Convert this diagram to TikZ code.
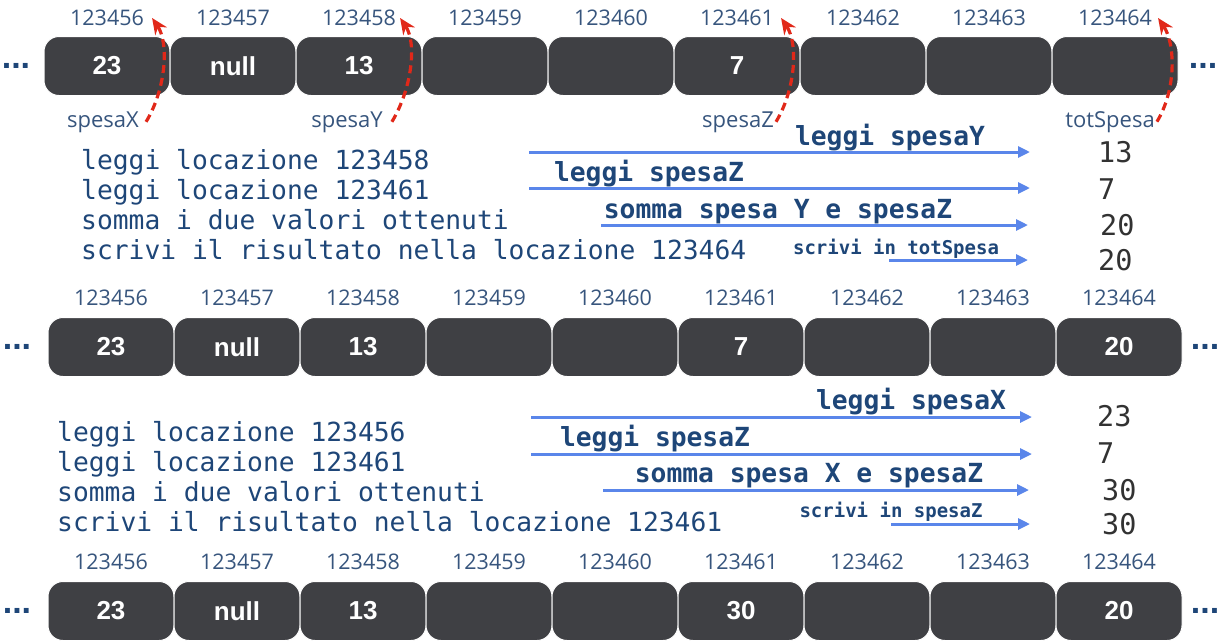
\documentclass[tikz,border=0pt]{standalone}
\usepackage{fontspec}
\setmainfont{Open Sans}
\newfontfamily\boxfont{Liberation Sans}
\newfontfamily\codefont{DejaVu Sans Mono}
\usetikzlibrary{arrows.meta}
\definecolor{grigiocella}{RGB}{63,64,68}
\definecolor{indirizzo}{RGB}{55,85,125}
\definecolor{codice}{RGB}{30,70,120}
\definecolor{freccia}{RGB}{90,134,234}
\definecolor{rosso}{RGB}{225,40,25}
\definecolor{valore}{RGB}{50,50,50}
\tikzset{
  cella/.style={rectangle, rounded corners=15pt, fill=grigiocella, draw=white, line width=1pt,
    minimum width=126pt, minimum height=59pt, inner sep=0pt, text=white,
    font=\boxfont\bfseries\fontsize{26}{26}\selectfont},
  ind/.style={inner sep=1pt, text=indirizzo, font=\fontsize{21.5}{22}\selectfont},
  var/.style={anchor=base, inner sep=1pt, text=indirizzo, font=\fontsize{22}{24}\selectfont},
  punti/.style={inner sep=0pt, text=codice, font=\boxfont\bfseries\fontsize{34}{34}\selectfont},
  istr/.style={anchor=base west, inner sep=0pt, text=codice, font=\codefont\fontsize{26.3}{30}\selectfont},
  etich/.style={anchor=base, inner sep=0pt, text=codice, font=\codefont\bfseries\fontsize{26.3}{30}\selectfont},
  etichp/.style={etich, font=\codefont\bfseries\fontsize{19}{20}\selectfont},
  val/.style={anchor=base west, inner sep=0pt, text=valore, font=\codefont\fontsize{28.5}{30}\selectfont},
  rossa/.style={draw=rosso, line width=3.2pt, dash pattern=on 8pt off 5pt, -{Stealth[length=16pt,width=14pt]}},
  blu/.style={draw=freccia, line width=3pt, -{Triangle[length=12pt,width=11pt]}}
}
\begin{document}
\begin{tikzpicture}[x=1pt, y=-1pt]
  \useasboundingbox (0,0) rectangle (1222,641);
  % memoria prima
  \foreach \v [count=\i] in {23,null,13,{},{},7,{},{},{}} {
    \node[cella] (r1c\i) at ({107+126*(\i-1)},66) {\v};
    \node[ind] (r1i\i) at ({107+126*(\i-1)},18) {\the\numexpr123455+\i\relax};
  }
  \node[punti] (r1sx) at (16,66) {...};
  \node[punti] (r1dx) at (1203,66) {...};
  \node[var] (spx) at (103,127) {spesaX};
  \node[var] (spy) at (347,127) {spesaY};
  \node[var] (spz) at (738,127) {spesaZ};
  \node[var] (tot) at (1110,127) {totSpesa};
  \draw[rossa] ([xshift=6pt]spx.east) .. controls +(20,-33) and +(17,25) .. ([xshift=7pt]r1i1.east);
  \draw[rossa] ([xshift=8pt]spy.east) .. controls +(20,-33) and +(17,25) .. ([xshift=3pt]r1i3.east);
  \draw[rossa] ([xshift=1pt]spz.east) .. controls +(20,-33) and +(17,25) .. ([xshift=6pt]r1i6.east);
  \draw[rossa] ([xshift=1pt]tot.east) .. controls +(20,-33) and +(17,25) .. ([xshift=5pt]r1i9.east);

  % primo programma
  \foreach \t [count=\i] in {leggi locazione 123458,leggi locazione 123461,somma i due valori ottenuti,scrivi il risultato nella locazione 123464}
    \node[istr] (a\i) at (81,{139+30*\i}) {\t};
  \foreach \n/\xa/\xb/\y in {1/529/1030/152,2/529/1030/188,3/601/1028/225,4/889/1028/260} {
    \coordinate (p1\n) at (\xa,\y);
    \coordinate (q1\n) at (\xb,\y);
    \draw[blu] (p1\n) -- (q1\n);
  }
  \node[etich] (e11) at (890,145) {leggi spesaY};
  \node[etich] (e12) at (649,181) {leggi spesaZ};
  \node[etich] (e13) at (778,218) {somma spesa Y e spesaZ};
  \node[etichp] (e14) at (896,254) {scrivi in totSpesa};
  \foreach \v/\xv/\y [count=\i] in {13/1098/162,7/1098/199,20/1100/235,20/1098/270}
    \node[val] (v1\i) at (\xv,\y) {\v};

  % memoria dopo il primo
  \foreach \v [count=\i] in {23,null,13,{},{},7,{},{},20} {
    \node[cella] (r2c\i) at ({111+126*(\i-1)},347) {\v};
    \node[ind] (r2i\i) at ({111+126*(\i-1)},298) {\the\numexpr123455+\i\relax};
  }
  \node[punti] (r2sx) at (17,347) {...};
  \node[punti] (r2dx) at (1205,347) {...};

  % secondo programma
  \foreach \t [count=\i] in {leggi locazione 123456,leggi locazione 123461,somma i due valori ottenuti,scrivi il risultato nella locazione 123461}
    \node[istr] (b\i) at (57,{411+30*\i}) {\t};
  \foreach \n/\xa/\xb/\y in {1/531/1032/417,2/531/1032/454,3/603/1029/490,4/891/1030/524} {
    \coordinate (p2\n) at (\xa,\y);
    \coordinate (q2\n) at (\xb,\y);
    \draw[blu] (p2\n) -- (q2\n);
  }
  \node[etich] (e21) at (911,409) {leggi spesaX};
  \node[etich] (e22) at (655,446) {leggi spesaZ};
  \node[etich] (e23) at (809,482) {somma spesa X e spesaZ};
  \node[etichp] (e24) at (891,517) {scrivi in spesaZ};
  \foreach \v/\xv/\y [count=\i] in {23/1097/426,7/1097/463,30/1102/500,30/1102/534}
    \node[val] (v2\i) at (\xv,\y) {\v};

  % memoria dopo il secondo
  \foreach \v [count=\i] in {23,null,13,{},{},30,{},{},20} {
    \node[cella] (r3c\i) at ({111+126*(\i-1)},611) {\v};
    \node[ind] (r3i\i) at ({111+126*(\i-1)},562) {\the\numexpr123455+\i\relax};
  }
  \node[punti] (r3sx) at (17,611) {...};
  \node[punti] (r3dx) at (1205,611) {...};
\end{tikzpicture}
\end{document}
